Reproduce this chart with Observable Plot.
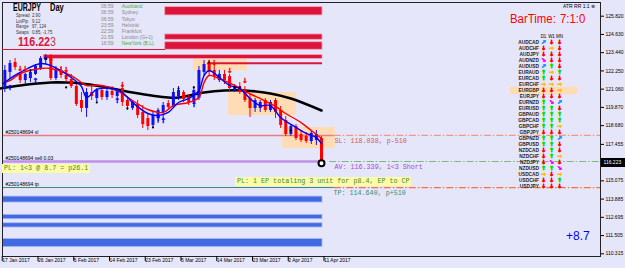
<!DOCTYPE html>
<html><head><meta charset="utf-8">
<script src="https://cdn.jsdelivr.net/npm/d3@7"></script>
<script src="https://cdn.jsdelivr.net/npm/@observablehq/plot@0.6"></script>
<style>
html,body{margin:0;padding:0;background:#E6E6FA;}
#wrap{position:relative;width:625px;height:268px;overflow:hidden;background:#E6E6FA;font-family:"Liberation Sans",Arial,sans-serif;}
#wrap svg{position:absolute;left:0;top:0;}
.t{position:absolute;white-space:nowrap;line-height:1;transform-origin:0 50%;}
.box{position:absolute;white-space:nowrap;background:#FBFBA8;font-family:"Liberation Mono",monospace;font-size:6.7px;color:#4A8A2A;line-height:9px;padding-left:2px;}
</style></head><body><div id="wrap"></div>
<script>
// ---------- data ----------
const open  = [121.95,121.10,122.15,122.80,122.08,121.62,121.75,122.02,122.41,122.93,
               123.12,121.75,122.28,121.95,121.69,121.23,120.32,119.80,120.84,120.45,
               120.97,120.51,120.91,120.58,121.10,120.32,119.80,120.06,119.54,119.14,
               118.69,119.14,119.54,120.12,119.93,120.58,120.84,120.51,120.19,120.45,
               122.15,122.67,122.28,121.62,122.02,121.89,120.97,121.23,120.97,120.45,
               119.80,119.80,120.32,119.67,120.32,119.67,119.01,118.10,118.62,118.10,
               117.97,117.64,117.71,117.84];
const high  = [122.28,122.60,122.93,123.06,122.15,122.08,122.28,122.67,123.19,123.32,
               123.32,122.54,122.54,122.28,122.02,121.36,120.84,121.10,121.23,121.10,
               121.23,121.10,121.23,121.10,121.36,120.58,120.32,120.32,119.99,119.41,
               119.54,119.80,120.19,120.32,121.10,121.23,120.97,120.71,121.23,122.54,
               122.93,122.93,122.67,122.28,122.28,122.02,121.36,121.49,121.23,120.71,
               120.45,120.32,120.45,120.32,120.45,119.93,119.27,118.75,118.75,118.36,
               118.23,118.36,118.36,117.97];
const low   = [120.97,120.84,121.75,122.28,121.43,121.36,121.49,121.95,122.28,122.67,
               121.62,121.62,121.75,121.49,121.10,119.93,119.54,119.21,120.32,120.19,
               120.32,120.32,120.45,120.45,119.93,119.67,119.67,119.14,118.49,118.36,
               118.49,118.82,119.01,119.67,119.80,120.32,120.19,119.99,120.06,120.32,
               121.89,121.89,121.62,121.49,121.36,120.84,120.84,120.71,120.19,119.21,
               119.54,119.54,119.54,119.54,119.14,118.49,117.97,117.97,117.71,117.58,
               117.51,117.45,117.38,116.14];
const close = [121.10,122.28,122.73,122.47,121.62,122.02,122.15,122.54,123.06,123.12,
               121.75,122.28,121.95,121.69,121.23,120.06,119.80,120.84,120.58,120.97,
               120.51,120.91,120.65,120.97,120.19,119.93,120.19,119.34,118.75,118.62,
               119.34,119.67,119.99,119.86,120.84,120.97,120.38,120.19,120.97,122.28,
               122.67,122.15,121.89,122.02,121.62,121.10,121.23,120.84,120.32,119.80,
               120.32,120.19,119.67,120.19,119.54,118.69,118.10,118.62,117.84,117.71,
               117.64,118.17,118.10,116.22];

const xTickIdx    = [0,7,14,21,28,35,42,49,56,63];
const xTickLabels = ["17 Jan 2017","26 Jan 2017","5 Feb 2017","14 Feb 2017","23 Feb 2017",
                     "5 Mar 2017","14 Mar 2017","23 Mar 2017","2 Apr 2017","11 Apr 2017"];
const yTickVals   = [125.820,124.630,123.440,122.250,121.060,119.870,118.680,117.455,
                     115.075,113.885,112.695,111.505,110.315];
const yTickLabels = ["125.820","124.630","123.440","122.250","121.060","119.870","118.680",
                     "117.455","115.075","113.885","112.695","111.505","110.315"];

const blackMaIdx = [0,4,10,13,16,20,26,33,35,40,44,48,53,57,63];
const blackMaVal = [121.10,121.30,121.49,121.49,121.43,121.23,120.84,120.51,120.51,120.84,120.97,120.97,120.78,120.45,119.67];
const redMaIdx = [0,2,4,8,10,14,16,17,20,23,26,29,32,34,37,39,40,41,43,46,48,51,54,56,59,61,63];
const redMaVal = [121.43,121.62,122.08,122.41,122.41,121.95,121.49,121.30,121.30,120.97,
                  120.32,119.73,119.54,119.99,120.19,120.51,121.49,121.95,121.75,121.30,
                  120.91,120.45,119.93,119.47,118.88,118.36,117.84];
const blueMaIdx = [0,2,4,8,10,14,16,17,19,22,24,26,29,31,33,35,37,39,40,41,43,45,47,49,51,53,55,58,60,62,63];
const blueMaVal = [121.23,121.75,122.15,122.73,122.60,121.82,121.23,120.51,121.04,121.10,
                   120.84,120.19,119.47,119.34,119.54,120.19,120.45,120.97,121.95,122.28,
                   121.82,121.30,121.10,120.45,119.99,119.99,119.21,118.56,118.17,117.90,117.51];

const zoneStart = [37.9,44.8,55.4], zoneEnd = [48.5,58.1,65.7];
const zoneTop = [123.00,120.84,118.56], zoneBottom = [122.25,119.34,117.19];

const redBarStart = [32.4,32.4,32.4,8.6], redBarEnd = [63.2,63.2,63.2,63.2];
const redBarTop = [126.41,124.63,124.12,123.29], redBarBottom = [125.87,124.28,123.63,123.03];
const redLinePrice = 122.75, redLineStart = 40.7;
const blueBarStart = [0,0,0,0], blueBarEnd = [63.2,63.2,63.2,63.2];
const blueBarTop = [114.05,112.86,112.31,111.29], blueBarBottom = [113.66,112.57,112.03,110.75];

const downArrowIdx = [4,5,10,12,13,24,41,42,45,48];
const downArrowVal = [122.41,122.41,123.06,122.34,122.34,121.36,122.80,122.80,122.28,121.62];
const upArrowIdx = [2,7,23,31,32,38];
const upArrowVal = [121.17,121.62,120.32,119.14,119.01,120.06];
const dotIdx = [6,9,13,19,25,30,35,38,41,46,47,57];
const dotVal = [122.28,123.06,121.17,120.19,119.80,118.56,121.10,121.17,122.80,121.17,121.17,118.36];

const slPrice = 118.038, avPrice = 116.339, tpPrice = 114.640, bidPrice = 116.223;
const ticket = "#250148694";

const pairs = ["AUDCAD","AUDCHF","AUDJPY","AUDNZD","AUDUSD","EURAUD","EURCAD","EURCHF","EURGBP","EURJPY",
               "EURNZD","EURUSD","GBPAUD","GBPCAD","GBPCHF","GBPJPY","GBPNZD","GBPUSD","NZDCAD","NZDCHF",
               "NZDJPY","NZDUSD","USDCAD","USDCHF","USDJPY"];
const d1 = ["ur","d","d","dr","ur","u","u","r","d","d","u","u","u","u","u","d","u","u","d","d","d","u","r","d","d"];
const w1 = ["d","r","d","d","u","r","d","r","d","d","dr","u","u","u","u","d","u","u","u","u","dr","u","d","d","d"];
const mn = ["d","d","d","d","d","u","d","r","r","d","ur","d","u","u","r","d","ur","d","d","r","d","dr","r","u","d"];

const infoLabels = ["Spread","LotPip","Range","Swaps"];
const infoValues = ["2.90","9.12","97, 124","0.85, -1.75"];
const sessionTimes = ["06:59","06:59","06:59","23:59","22:59","21:59","16:59"];
const sessionNames = ["Auckland","Sydney","Tokyo","Helsinki","Frankfurt","London (G+1)","NewYork (B,L)"];
const sessionOpen  = [true,false,false,false,false,false,true];

// ---------- build ----------
const candles = open.map((o,i)=>({i,o,h:high[i],l:low[i],c:close[i],col: close[i]>=o ? "#1010F0" : "#FF0000"}));
const lastIdx = candles.length-1;
const xMin = 0.5385, xMax = 117.63;
const mk = (idx,val)=>idx.map((d,k)=>({i:d,v:val[k]}));
const zones = zoneStart.map((s,k)=>({s,e:zoneEnd[k],t:zoneTop[k],b:zoneBottom[k]}));
const redBars = redBarStart.map((s,k)=>({s,e:redBarEnd[k],t:redBarTop[k],b:redBarBottom[k]}));
const blueBars = blueBarStart.map((s,k)=>({s,e:blueBarEnd[k],t:blueBarTop[k],b:blueBarBottom[k]}));
const xLab = new Map(xTickIdx.map((d,k)=>[d,xTickLabels[k]]));
const yLab = new Map(yTickVals.map((d,k)=>[d,yTickLabels[k]]));
const dashEnd = lastIdx + 2.5;
const dd = "7,2,1.5,2";

const plot = Plot.plot({
  width: 625, height: 268,
  marginTop: 2, marginRight: 25, marginBottom: 12, marginLeft: 2,
  style: {background: "transparent", fontFamily: "Liberation Sans, Arial, sans-serif", overflow: "visible"},
  x: {domain: [xMin, xMax], axis: null},
  y: {domain: [110.139, 126.714], axis: null},
  color: {type: "identity"},
  marks: [
    Plot.rect(zones, {x1:"s", x2:"e", y1:"b", y2:"t", fill:"#FFDCB4", clip:true}),
    Plot.rect(redBars, {x1:"s", x2:"e", y1:"b", y2:"t", fill:"#DC143C", stroke:"#F2A6B8", strokeWidth:0.8, clip:true}),
    Plot.ruleY([redLinePrice], {x1: redLineStart, x2: redBarEnd[0], stroke:"#DC143C", strokeWidth:1.8}),
    Plot.rect(blueBars, {x1:"s", x2:"e", y1:"b", y2:"t", fill:"#4169E1", stroke:"#AEBEF2", strokeWidth:0.8, clip:true}),
    // order lines
    Plot.ruleY([slPrice], {x1: xMin, x2: dashEnd, stroke:"#E88080", strokeWidth:1.5}),
    Plot.ruleY([slPrice], {x1: dashEnd, x2: xMax, stroke:"#EE9A84", strokeWidth:1.2, strokeDasharray: dd}),
    Plot.ruleY([avPrice], {x1: xMin, x2: lastIdx, stroke:"#C090E6", strokeWidth:2.6}),
    Plot.ruleY([avPrice], {x1: lastIdx+1.6, x2: xMax, stroke:"#7CB87C", strokeWidth:1.2, strokeDasharray: dd}),
    Plot.ruleY([tpPrice], {x1: xMin, x2: dashEnd, stroke:"#3C8C6C", strokeWidth:1}),
    Plot.ruleY([tpPrice], {x1: dashEnd, x2: xMax, stroke:"#FF7038", strokeWidth:1.2, strokeDasharray: dd}),
    Plot.text([slPrice], {y: d=>d, frameAnchor:"left", dx:3, dy:-3.5, text:()=>ticket+" sl", textAnchor:"start", fontSize:5, fill:"#000"}),
    Plot.text([avPrice], {y: d=>d, frameAnchor:"left", dx:3, dy:-3.5, text:()=>ticket+" sell 0.03", textAnchor:"start", fontSize:5, fill:"#000"}),
    Plot.text([tpPrice], {y: d=>d, frameAnchor:"left", dx:3, dy:-3.5, text:()=>ticket+" tp", textAnchor:"start", fontSize:5, fill:"#000"}),
    Plot.text([slPrice], {x: ()=>lastIdx, y: d=>d, dx:13, dy:5, textAnchor:"start", text: d=>`SL: ${d.toFixed(3)}, p-510`, fontFamily:"Liberation Mono, monospace", fontSize:6.7, fill:"#C85A5A"}),
    Plot.text([avPrice], {x: ()=>lastIdx, y: d=>d, dx:13, dy:5, textAnchor:"start", text: d=>`AV: ${d.toFixed(3)}, 1<3 Short`, fontFamily:"Liberation Mono, monospace", fontSize:6.7, fill:"#A646D6"}),
    Plot.text([tpPrice], {x: ()=>lastIdx, y: d=>d, dx:12, dy:5, textAnchor:"start", text: d=>`TP: ${d.toFixed(3)}, p+510`, fontFamily:"Liberation Mono, monospace", fontSize:6.7, fill:"#3C8C6C"}),
    // moving averages
    Plot.line(mk(blackMaIdx,blackMaVal), {x:"i", y:"v", stroke:"#000", strokeWidth:2.6, curve:"catmull-rom"}),
    // candles
    Plot.ruleX(candles, {x:"i", y1:"l", y2:"h", stroke:"col", strokeWidth:1, clip:true}),
    Plot.ruleX(candles, {x:"i", y1:"o", y2:"c", stroke:"col", strokeWidth:3, clip:true}),
    Plot.line(mk(redMaIdx,redMaVal), {x:"i", y:"v", stroke:"#FF0000", strokeWidth:1.4, curve:"catmull-rom", clip:true}),
    Plot.line(mk(blueMaIdx,blueMaVal), {x:"i", y:"v", stroke:"#0000FF", strokeWidth:1.4, curve:"catmull-rom", clip:true}),
    Plot.text(mk(downArrowIdx,downArrowVal), {x:"i", y:"v", text:()=>"↓", fill:"#FF0000", stroke:"#FF0000", strokeWidth:0.4, fontSize:7, fontWeight:"bold", fontFamily:"DejaVu Sans"}),
    Plot.text(mk(upArrowIdx,upArrowVal), {x:"i", y:"v", text:()=>"↑", fill:"#0000FF", stroke:"#0000FF", strokeWidth:0.4, fontSize:7, fontWeight:"bold", fontFamily:"DejaVu Sans"}),
    Plot.dot(mk(dotIdx,dotVal), {x:"i", y:"v", r:1.1, fill:"#000", stroke:null}),
    Plot.dot([bidPrice], {x:()=>lastIdx, y:d=>d, r:3, stroke:"#000", strokeWidth:2, fill:"#fff"}),
    Plot.frame({stroke:"#222", strokeWidth:1}),
    Plot.axisY(yTickVals, {anchor:"right", tickSize:3, tickPadding:2, fontSize:5, tickFormat: d=>yLab.get(d), fill:"#000", stroke:"#000"}),
    Plot.axisX(xTickIdx, {anchor:"bottom", tickSize:5, tickPadding:-3, fontSize:5, textAnchor:"start", dx:2.5, tickFormat: d=>xLab.get(d), fill:"#000", stroke:"#000"})
  ]
});
const wrap = document.getElementById("wrap");
wrap.appendChild(plot);

// currency trend table
const glyph = {u:"↑", d:"↓", r:"→", ur:"↗", dr:"↘"};
const gcol = {u:"#00E000", d:"#FF0000", r:"#FFC000", ur:"#1E90FF", dr:"#FF00FF"};
const cells = [];
pairs.forEach((p,k)=>[["D1",d1],["W1",w1],["MN",mn]].forEach(([c,arr])=>cells.push({pair:p,col:c,dir:arr[k]})));
const table = Plot.plot({
  width:625, height:268, marginLeft:510, marginRight:48, marginTop:0, marginBottom:0,
  style:{background:"transparent", fontFamily:"Liberation Sans, Arial, sans-serif"},
  x:{type:"point", domain:["D1","W1","MN"], range:[541.7,559.3], padding:0, axis:null},
  y:{type:"point", domain:["hdr",...pairs], range:[27.4,194.3], padding:0, axis:null},
  color:{type:"identity"},
  marks:[
    Plot.ruleY(["EURGBP"], {stroke:"#FFDCB4", strokeWidth:7.5}),
    Plot.text(["D1","W1","MN"], {x:d=>d, y:()=>"hdr", text:d=>d, fontSize:4.5, fill:"#000"}),
    Plot.text(pairs, {x:()=>"D1", y:d=>d, text:d=>d, dx:-4.5, textAnchor:"end", fontSize:4.8, fontWeight:"bold", fill:"#222"}),
    Plot.text(cells, {x:"col", y:"pair", text:d=>glyph[d.dir], fill:d=>gcol[d.dir], stroke:d=>gcol[d.dir], strokeWidth:0.8, fontSize:5.6, fontWeight:"bold", fontFamily:"DejaVu Sans"})
  ]
});
wrap.appendChild(table);

// overlays
function T(txt, x, y, css, sx){ const s=document.createElement("div"); s.className="t"; s.textContent=txt; s.style.left=x+"px"; s.style.top=y+"px"; s.style.transform=`translateY(-50%) scaleX(${sx||1})`; Object.assign(s.style, css||{}); wrap.appendChild(s); return s; }
const panel = document.createElement("div");
Object.assign(panel.style,{position:"absolute",left:"2px",top:"2px",width:"163px",height:"47px",borderBottom:"1px solid #DC143C"});
wrap.appendChild(panel);
T("EURJPY", 12.5, 7.5, {fontSize:"10px", fontWeight:"bold", color:"#000"}, 0.7);
T("Day", 50, 7.5, {fontSize:"10px", fontWeight:"bold", color:"#000"}, 0.75);
const infoY = [15,20.5,26.2,31.7];
infoLabels.forEach((l,k)=>{ T(l,16,infoY[k],{fontSize:"5px",color:"#333"},0.85); T(infoValues[k],31.7,infoY[k],{fontSize:"5px",color:"#333"},0.85); });
const bidStr = bidPrice.toFixed(3);
const b = T("", 18, 40.8, {fontSize:"13px", color:"#DC143C"}, 0.82);
b.innerHTML = `<b>${bidStr.slice(0,-1)}</b><span style="color:#B04050">${bidStr.slice(-1)}</span>`;
const sessY = [6.3,12.3,18.7,24.7,31,37,43.2];
sessionTimes.forEach((t,k)=>{
  T(t,101,sessY[k],{fontSize:"5px",color:"#888"});
  T(sessionNames[k],121.7,sessY[k],{fontSize:"5px",color: sessionOpen[k] ? "#3CB043" : "#888"});
});
T("ATR RR 1:1 ⊗", 563, 5.5, {fontSize:"5px", color:"#000"});
T("BarTime:", 509.5, 18.5, {fontSize:"12px", color:"#FF0000"}, 0.95);
T("7:1:0", 560, 18.5, {fontSize:"12px", color:"#FF0000"}, 0.95);
T("+8.7", 566, 236, {fontSize:"12px", color:"#0000FF"});
// yellow PL boxes
function box(txt, x, y, w){ const d=document.createElement("div"); d.className="box"; d.textContent=txt; Object.assign(d.style,{left:x+"px",top:y+"px",width:w+"px"}); wrap.appendChild(d); }
box("PL: 1<3 @ 8.7 = p26.1", 2, 163.5, 86);
box("PL: 1 EP totaling 3 unit for p8.4, EP to CP", 235, 176.5, 174);
// current price tag on axis
const yb = plot.scale("y").apply(bidPrice);
const tag = document.createElement("div");
Object.assign(tag.style,{position:"absolute",left:"600.5px",top:(yb-4.5)+"px",width:"25px",height:"9px",background:"#000",color:"#fff",fontSize:"5px",lineHeight:"9px",paddingLeft:"3px",boxSizing:"border-box"});
tag.textContent = bidStr;
wrap.appendChild(tag);
</script></body></html>
